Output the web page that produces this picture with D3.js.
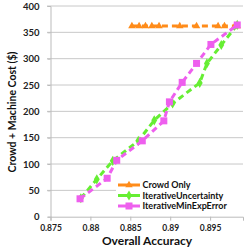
<!DOCTYPE html>
<html><head><meta charset="utf-8">
<script src="https://cdn.jsdelivr.net/npm/d3@7"></script>
<style>body{margin:0;background:#fff}svg{display:block}</style>
</head><body>
<script>
const crowdX = [0.8852,0.8861,0.8869,0.8877,0.8886,0.8912,0.8933,0.8960,0.8968,0.8981,0.8984];
const crowdY = [362,362,362,362,362,362,362,362,362,362,362];
const uncX = [0.8788,0.8808,0.8828,0.8860,0.8880,0.8903,0.8937,0.8946,0.8964,0.8984];
const uncY = [35,71,106,144,183,215,254,291,326,364];
const minX = [0.8787,0.8821,0.8833,0.8865,0.8892,0.8899,0.8915,0.8933,0.8951,0.8984];
const minY = [34,73,107,144,182,218,255,291,327,364];
const xTicks = [0.875,0.88,0.885,0.89,0.895];
const yTicks = [0,50,100,150,200,250,300,350,400];
const seriesNames = ["Crowd Only","IterativeUncertainty","IterativeMinExpError"];
const colors = ["#FF8C1A","#66EE33","#EE5FEE"];

const W=249,H=249;
const svg=d3.select("body").append("svg").attr("width",W).attr("height",H);
const x=d3.scaleLinear().domain([0.875,0.89912]).range([50.5,243]);
const y=d3.scaleLinear().domain([0,400]).range([216.7,6]);
const font="Lato, 'Open Sans', sans-serif";

svg.append("g").selectAll("line").data(yTicks.filter(d=>d>0)).join("line")
 .attr("x1",47).attr("x2",243).attr("y1",d=>y(d)).attr("y2",d=>y(d))
 .attr("stroke","#c8c8c8").attr("stroke-width",1);
const ya=svg.append("g").attr("transform","translate(50.5,0)")
 .call(d3.axisLeft(y).tickValues(yTicks).tickSize(3).tickPadding(8));
ya.select(".domain").attr("stroke","#bbb");
ya.selectAll(".tick line").attr("stroke","#bbb");
ya.selectAll("text").attr("font-family",font).attr("font-weight","bold").attr("font-size",9.5).attr("fill","#222");
const xa=svg.append("g").attr("transform","translate(0,216.7)")
 .call(d3.axisBottom(x).tickValues(xTicks).tickFormat(d3.format("")).tickSizeOuter(0).tickSize(4).tickPadding(4));
xa.select(".domain").attr("stroke","#bbb");
xa.selectAll(".tick line").attr("stroke","#bbb");
xa.selectAll("text").attr("font-family",font).attr("font-weight","bold").attr("font-size",8.5).attr("fill","#222");

svg.append("text").attr("x",147).attr("y",245).attr("text-anchor","middle")
 .attr("font-family",font).attr("font-weight","bold").attr("font-size",12).attr("fill","#111").text("Overall Accuracy");
svg.append("text").attr("transform","translate(16,112) rotate(-90)").attr("text-anchor","middle")
 .attr("font-family",font).attr("font-weight","bold").attr("font-size",10.5).attr("fill","#111").text("Crowd + Machine Cost ($)");

const series=[
 {xs:crowdX,ys:crowdY,c:colors[0],m:"tri"},
 {xs:uncX,ys:uncY,c:colors[1],m:"dia"},
 {xs:minX,ys:minY,c:colors[2],m:"sq"}
];
const line=d3.line().x(d=>x(d[0])).y(d=>y(d[1]));
function marker(g,type,c,cx,cy){
  if(type==="tri") g.append("path").attr("d",d3.symbol(d3.symbolTriangle,24)()).attr("transform",`translate(${cx},${cy})`).attr("fill",c);
  else if(type==="dia") g.append("path").attr("d",d3.symbol(d3.symbolDiamond,30)()).attr("transform",`translate(${cx},${cy})`).attr("fill",c);
  else g.append("rect").attr("x",cx-3.5).attr("y",cy-3.5).attr("width",7).attr("height",7).attr("fill",c);
}
series.forEach(s=>{
  const pts=s.xs.map((v,i)=>[v,s.ys[i]]);
  const g=svg.append("g");
  g.append("path").datum(pts).attr("d",line).attr("fill","none").attr("stroke",s.c).attr("stroke-width",3).attr("stroke-dasharray","6,4");
  pts.forEach(p=>marker(g,s.m,s.c,x(p[0]),y(p[1])));
});

const lg=svg.append("g");
lg.append("rect").attr("x",116).attr("y",179).attr("width",127).attr("height",33).attr("fill","#fff");
seriesNames.forEach((n,i)=>{
  const ly=185+i*10.5;
  lg.append("line").attr("x1",118).attr("x2",140).attr("y1",ly).attr("y2",ly).attr("stroke",colors[i]).attr("stroke-width",3);
  marker(lg,series[i].m,colors[i],129,ly);
  lg.append("text").attr("x",142.5).attr("y",ly+3.3).attr("font-family",font).attr("font-weight","bold").attr("font-size",9).attr("fill","#111").text(n);
});
</script>
</body></html>
